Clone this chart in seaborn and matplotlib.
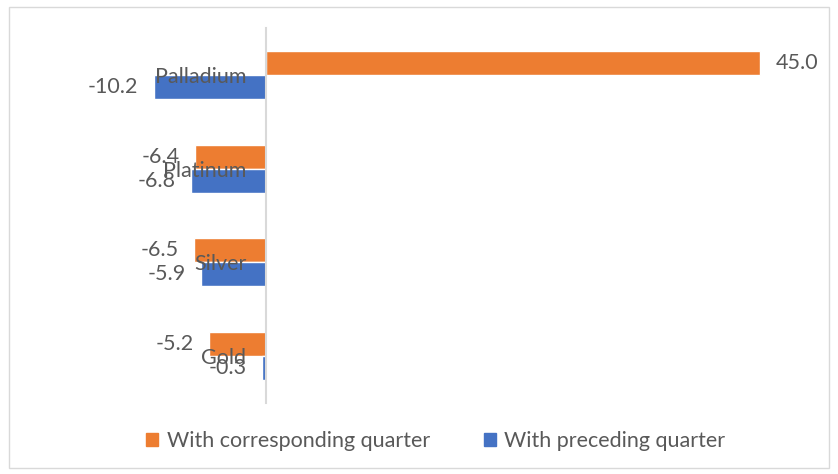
import matplotlib
matplotlib.use("Agg")
import matplotlib.pyplot as plt
import matplotlib.patches as mpatches
import seaborn as sns
import pandas as pd

metals = ["Palladium", "Platinum", "Silver", "Gold"]
corresponding = [45.0, -6.4, -6.5, -5.2]
preceding = [-10.2, -6.8, -5.9, -0.3]
series_names = ["With corresponding quarter", "With preceding quarter"]
colors = ["#ED7D31", "#4472C4"]

df = pd.DataFrame({
    "Metal": metals * 2,
    "Value": corresponding + preceding,
    "Series": [series_names[0]] * len(metals) + [series_names[1]] * len(metals),
})

sns.set_theme(style="white")
plt.rcParams["font.family"] = ["Lato", "DejaVu Sans"]
text_color = "#595959"

fig = plt.figure(figsize=(8.38, 4.74), dpi=100)
ax = fig.add_axes([0.0549, 0.1498, 0.9177, 0.791])

sns.barplot(data=df, y="Metal", x="Value", hue="Series", order=metals,
            hue_order=series_names, palette=colors, orient="h",
            width=0.512, ax=ax, legend=True, saturation=1)

ax.set_axisbelow(False)
ax.set_xlim(-20, 50)
ax.set_ylim(len(metals) - 0.5, -0.5)
ax.set_xlabel("")
ax.set_ylabel("")
ax.set_xticks([])
for s in ["top", "right", "bottom"]:
    ax.spines[s].set_visible(False)
ax.spines["left"].set_position(("data", 0))
ax.spines["left"].set_color("#D9D9D9")
ax.spines["left"].set_linewidth(1.5)
ax.tick_params(axis="y", length=0, pad=14, labelsize=15.5, labelcolor=text_color)

for cont in ax.containers:
    ax.bar_label(cont, fmt="%.1f", padding=11, fontsize=15.5, color=text_color)

leg = ax.legend(handles=[mpatches.Patch(color=c, label=n) for c, n in zip(colors, series_names)],
                loc="center", bbox_to_anchor=(0.52, 0.07), bbox_transform=fig.transFigure,
                ncol=2, frameon=False, fontsize=15.5, handlelength=0.55, handleheight=0.55,
                columnspacing=2.5, handletextpad=0.4)
for t in leg.get_texts():
    t.set_color(text_color)

fig.patches.append(mpatches.Rectangle((9 / 838, 6 / 474), 820 / 838, 461 / 474,
                                      transform=fig.transFigure, fill=False,
                                      edgecolor="#D9D9D9", linewidth=1))

fig.savefig("out.png", dpi=100)
